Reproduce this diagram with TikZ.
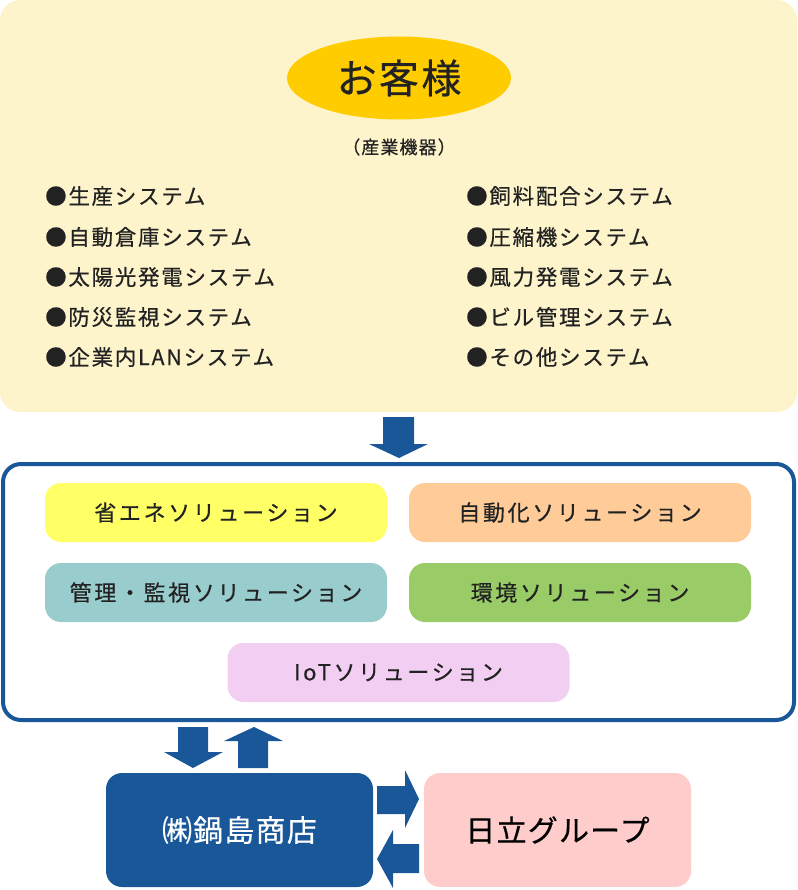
\documentclass[tikz,border=0pt]{standalone}
\usepackage{fontspec}
\setmainfont{Noto Sans CJK JP}[FakeBold=0.5]
\usetikzlibrary{shapes.geometric}
\definecolor{cream}{HTML}{FEF4CC}
\definecolor{gold}{HTML}{FFCC00}
\definecolor{navy}{HTML}{1A5799}
\definecolor{txt}{HTML}{222222}
\definecolor{cyellow}{HTML}{FFFF66}
\definecolor{corange}{HTML}{FFCC99}
\definecolor{cteal}{HTML}{99CCCC}
\definecolor{cgreen}{HTML}{99CC66}
\definecolor{cviolet}{HTML}{F2CEF2}
\definecolor{cpink}{HTML}{FFCCCC}
\begin{document}
\begin{tikzpicture}[x=1pt,y=-1pt,
  listitem/.style={anchor=west,inner sep=0pt,text=txt,font=\fontsize{21.5}{24}\selectfont\addfontfeature{LetterSpace=8}},
  solbox/.style={rounded corners=16pt,minimum width=342pt,minimum height=59pt,inner sep=0pt,text=txt,font=\fontsize{22}{26}\selectfont\addfontfeature{LetterSpace=12}},
  bigbox/.style={rounded corners=16pt,minimum width=267pt,minimum height=114pt,inner sep=0pt,font=\fontsize{30}{34}\selectfont\addfontfeature{LetterSpace=4}},
  blockarrow/.style={fill=navy,draw=none}]
\useasboundingbox (0,0) rectangle (797,890);
% top area
\fill[cream,rounded corners=20pt] (0,0) rectangle (797,412);
\node[ellipse,fill=gold,minimum width=224pt,minimum height=83pt,inner sep=0pt,text=txt,font=\fontsize{40}{44}\selectfont\addfontfeature{LetterSpace=6}] (cust) at (399,78) {お客様};
\node[inner sep=0pt,text=txt,font=\fontsize{18}{21}\selectfont\addfontfeature{LetterSpace=6}] (ind) at (399,147) {（産業機器）};
\node[listitem] (l1) at (45,196) {●生産システム};
\node[listitem] (l2) at (45,237) {●自動倉庫システム};
\node[listitem] (l3) at (45,277) {●太陽光発電システム};
\node[listitem] (l4) at (45,317) {●防災監視システム};
\node[listitem] (l5) at (45,357) {●企業内LANシステム};
\node[listitem] (r1) at (466,196) {●飼料配合システム};
\node[listitem] (r2) at (466,237) {●圧縮機システム};
\node[listitem] (r3) at (466,277) {●風力発電システム};
\node[listitem] (r4) at (466,317) {●ビル管理システム};
\node[listitem] (r5) at (466,357) {●その他システム};
% arrow down
\fill[blockarrow] (383,417) -- (414,417) -- (414,444) -- (428,444) -- (399,458) -- (369,444) -- (383,444) -- cycle;
% solution frame
\draw[navy,line width=4pt,rounded corners=18pt] (3,464) rectangle (794,720);
\node[solbox,fill=cyellow] (s1) at (216,512.5) {省エネソリューション};
\node[solbox,fill=corange] (s2) at (580,512.5) {自動化ソリューション};
\node[solbox,fill=cteal] (s3) at (216,592.5) {管理・監視ソリューション};
\node[solbox,fill=cgreen] (s4) at (580,592.5) {環境ソリューション};
\node[solbox,fill=cviolet] (s5) at (398.5,672.5) {IoTソリューション};
% up/down arrows
\fill[blockarrow] (178,727) -- (208,727) -- (208,752) -- (223,752) -- (193,768) -- (164,752) -- (178,752) -- cycle;
\fill[blockarrow] (254,727) -- (283,741) -- (268,741) -- (268,768) -- (238,768) -- (238,741) -- (224,741) -- cycle;
% bottom boxes
\node[bigbox,fill=navy,text=white] (nabe) at (239.5,830) {㈱鍋島商店};
\node[bigbox,fill=cpink,text=black] (hit) at (557.5,830) {日立グループ};
% side arrows
\fill[blockarrow] (377,786) -- (405,786) -- (405,770) -- (419,799) -- (405,828) -- (405,814) -- (377,814) -- cycle;
\fill[blockarrow] (419,844) -- (393,844) -- (393,830) -- (377,859) -- (393,888) -- (393,873) -- (419,873) -- cycle;
\end{tikzpicture}
\end{document}
